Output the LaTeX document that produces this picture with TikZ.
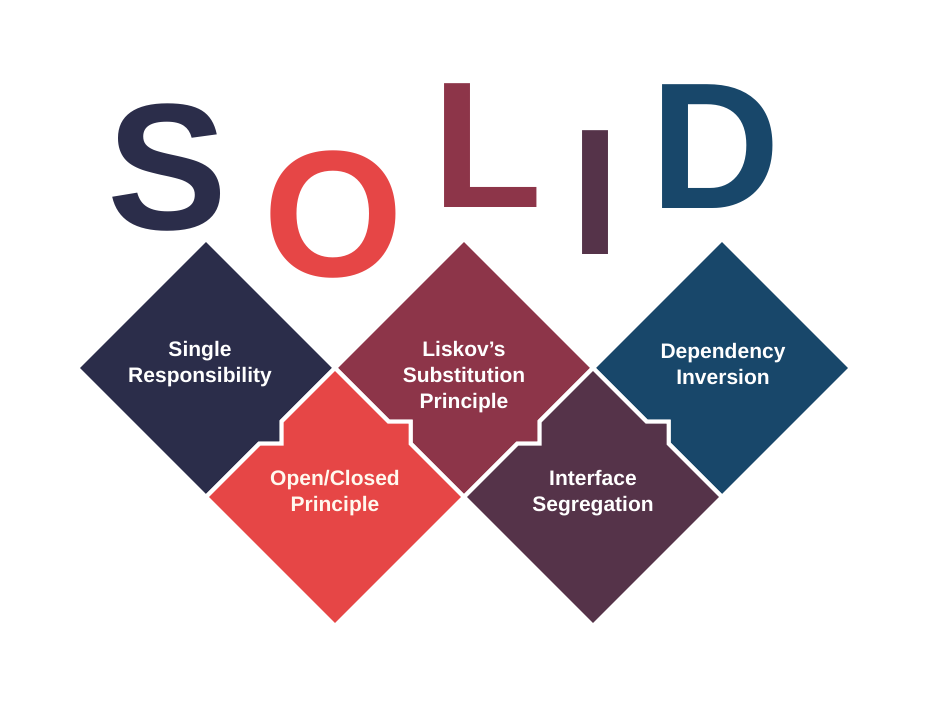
\documentclass[tikz,border=0pt]{standalone}
\usepackage{fontspec}
\setmainfont{Liberation Sans}
\definecolor{navy}{HTML}{2B2D4A}
\definecolor{coral}{HTML}{E64646}
\definecolor{wine}{HTML}{8D3549}
\definecolor{plum}{HTML}{553349}
\definecolor{ocean}{HTML}{18476A}
\definecolor{cream}{HTML}{FFF8EE}

\begin{document}
\begin{tikzpicture}[x=1pt, y=-1pt,
  tile/.style={draw=white, line width=4pt},
  caption/.style={text=white, font=\fontsize{21}{26}\selectfont\bfseries, align=center},
  bigletter/.style={font=\fontsize{180}{180}\selectfont\bfseries, inner sep=0pt, anchor=base}]
  \useasboundingbox (0,0) rectangle (926,704);
  % the word
  \node[bigletter, text=navy] (S) at (167.5,229) {S};
  \node[bigletter, text=coral] (O) at (333.5,276) {O};
  \node[bigletter, text=wine] (L) at (487,207) {L};
  \node[bigletter, text=plum] (I) at (595,254) {I};
  \node[bigletter, text=ocean] (D) at (715.5,208) {D};
  % the five tiles, steps on the shared edges
  \filldraw[tile, fill=navy] (77,368) -- (206,239) -- (335,368) -- (281.5,421.5) -- (281.5,443.5)
    -- (259.5,443.5) -- (206,497) -- cycle;
  \filldraw[tile, fill=wine] (335,368) -- (464,239) -- (593,368) -- (539.5,421.5) -- (539.5,443.5)
    -- (517.5,443.5) -- (464,497) -- (410.5,443.5) -- (410.5,421.5) -- (388.5,421.5) -- cycle;
  \filldraw[tile, fill=ocean] (593,368) -- (722,239) -- (851,368) -- (722,497) -- (668.5,443.5)
    -- (668.5,421.5) -- (646.5,421.5) -- cycle;
  \filldraw[tile, fill=coral] (335,368) -- (388.5,421.5) -- (410.5,421.5) -- (410.5,443.5)
    -- (464,497) -- (335,626) -- (206,497) -- (259.5,443.5) -- (281.5,443.5) -- (281.5,421.5) -- cycle;
  \filldraw[tile, fill=plum] (593,368) -- (646.5,421.5) -- (668.5,421.5) -- (668.5,443.5)
    -- (722,497) -- (593,626) -- (464,497) -- (517.5,443.5) -- (539.5,443.5) -- (539.5,421.5) -- cycle;
  % labels
  \node[caption] (srp) at (200,364) {Single\\Responsibility};
  \node[caption, text=cream] (ocp) at (335,493) {Open/Closed\\Principle};
  \node[caption] (lsp) at (464,377) {Liskov’s\\Substitution\\Principle};
  \node[caption] (isp) at (593,493) {Interface\\Segregation};
  \node[caption] (dip) at (723,364) {Dependency\\Inversion};
\end{tikzpicture}
\end{document}
